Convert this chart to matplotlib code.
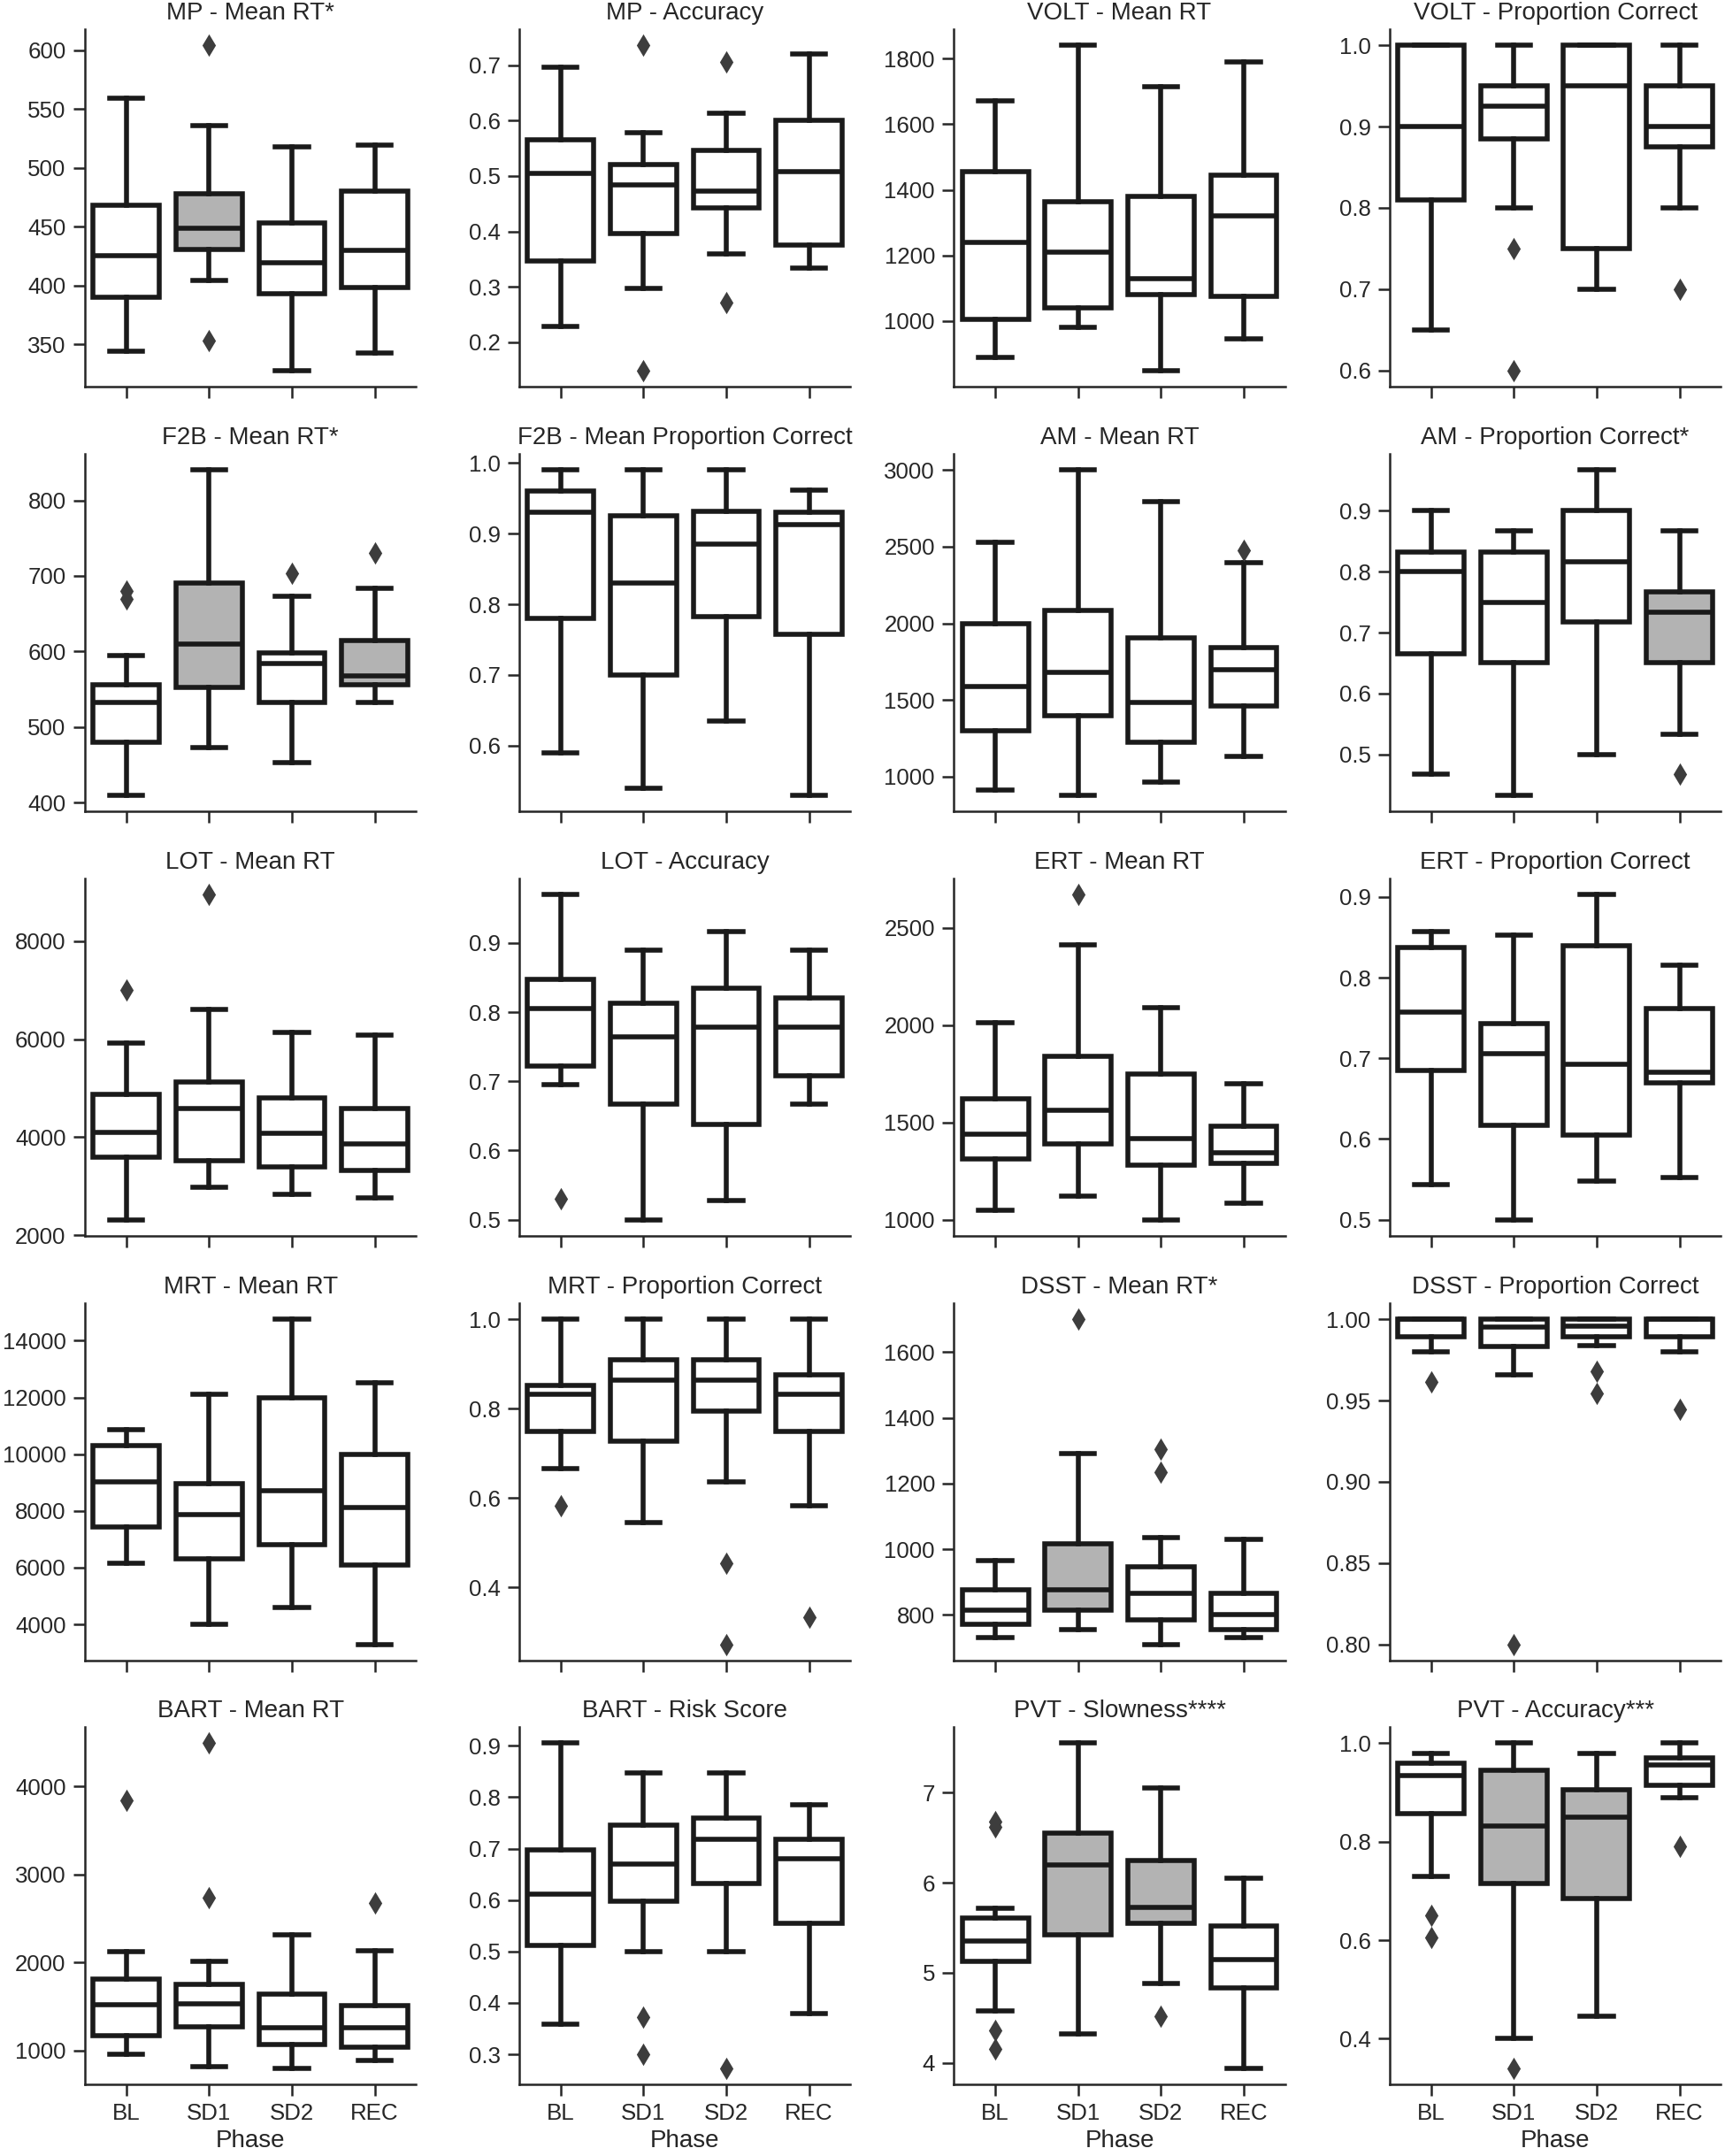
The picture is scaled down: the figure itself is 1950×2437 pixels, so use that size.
import numpy as np
import matplotlib
matplotlib.use("Agg")
import matplotlib.pyplot as plt

plt.rcParams['font.family'] = ['Liberation Sans', 'DejaVu Sans']

# phases on the x axis
phases = ["BL", "SD1", "SD2", "REC"]

# box stats per phase: [whislo, q1, median, q3, whishi]
mp_rt = [[344, 390, 425, 468, 559], [404, 431, 449, 478, 536],
         [328, 393, 419, 453, 518], [343, 398, 430, 480, 519]]
mp_rt_fl = [[], [604, 353], [], []]
mp_acc = [[0.228, 0.347, 0.504, 0.565, 0.696], [0.297, 0.396, 0.484, 0.520, 0.578],
          [0.360, 0.443, 0.472, 0.546, 0.614], [0.334, 0.376, 0.508, 0.601, 0.721]]
mp_acc_fl = [[], [0.736, 0.149], [0.706, 0.271], []]
volt_rt = [[890, 1005, 1240, 1455, 1670], [980, 1040, 1210, 1365, 1840],
           [850, 1080, 1130, 1380, 1715], [945, 1075, 1320, 1445, 1790]]
volt_rt_fl = [[], [], [], []]
volt_pc = [[0.65, 0.81, 0.90, 1.0, 1.0], [0.80, 0.885, 0.925, 0.95, 1.0],
           [0.70, 0.75, 0.95, 1.0, 1.0], [0.80, 0.875, 0.90, 0.95, 1.0]]
volt_pc_fl = [[], [0.75, 0.60], [], [0.70]]

f2b_rt = [[410, 480, 533, 556, 594], [473, 553, 610, 690, 840],
          [453, 533, 584, 598, 673], [533, 556, 568, 615, 684]]
f2b_rt_fl = [[670, 680], [], [703], [730]]
f2b_pc = [[0.59, 0.78, 0.93, 0.96, 0.99], [0.54, 0.70, 0.83, 0.925, 0.99],
          [0.635, 0.783, 0.885, 0.932, 0.99], [0.53, 0.758, 0.913, 0.93, 0.962]]
f2b_pc_fl = [[], [], [], []]
am_rt = [[910, 1300, 1590, 2000, 2530], [880, 1395, 1680, 2085, 3000],
         [965, 1225, 1485, 1905, 2795], [1130, 1460, 1695, 1840, 2395]]
am_rt_fl = [[], [], [], [2475]]
am_pc = [[0.467, 0.665, 0.80, 0.833, 0.90], [0.433, 0.65, 0.75, 0.833, 0.867],
         [0.50, 0.717, 0.817, 0.90, 0.967], [0.533, 0.65, 0.733, 0.767, 0.867]]
am_pc_fl = [[], [], [], [0.467]]

lot_rt = [[2320, 3600, 4100, 4870, 5930], [2980, 3520, 4580, 5130, 6600],
          [2830, 3400, 4080, 4810, 6140], [2760, 3330, 3860, 4590, 6090]]
lot_rt_fl = [[7000], [8950], [], []]
lot_acc = [[0.695, 0.722, 0.805, 0.848, 0.97], [0.50, 0.667, 0.764, 0.813, 0.89],
           [0.528, 0.637, 0.778, 0.835, 0.917], [0.667, 0.708, 0.778, 0.82, 0.89]]
lot_acc_fl = [[0.53], [], [], []]
ert_rt = [[1050, 1310, 1440, 1620, 2010], [1120, 1390, 1560, 1840, 2410],
          [1000, 1280, 1415, 1750, 2090], [1085, 1290, 1345, 1480, 1700]]
ert_rt_fl = [[], [2670], [], []]
ert_pc = [[0.543, 0.685, 0.757, 0.837, 0.857], [0.50, 0.617, 0.706, 0.743, 0.853],
          [0.548, 0.605, 0.693, 0.840, 0.903], [0.552, 0.670, 0.683, 0.762, 0.815]]
ert_pc_fl = [[], [], [], []]

mrt_rt = [[6150, 7430, 9020, 10300, 10850], [4000, 6300, 7880, 8950, 12100],
          [4600, 6820, 8700, 12000, 14750], [3300, 6100, 8130, 10000, 12500]]
mrt_rt_fl = [[], [], [], []]
mrt_pc = [[0.667, 0.75, 0.833, 0.853, 1.0], [0.545, 0.727, 0.864, 0.909, 1.0],
          [0.636, 0.795, 0.864, 0.909, 1.0], [0.583, 0.75, 0.833, 0.875, 1.0]]
mrt_pc_fl = [[0.583], [], [0.455, 0.273], [0.333]]
dsst_rt = [[730, 770, 815, 875, 965], [755, 815, 875, 1015, 1290],
           [710, 785, 865, 945, 1035], [730, 755, 800, 865, 1030]]
dsst_rt_fl = [[], [1700], [1305, 1235], []]
dsst_pc = [[0.980, 0.989, 1.0, 1.0, 1.0], [0.966, 0.9835, 0.995, 1.0, 1.0],
           [0.984, 0.989, 0.996, 1.0, 1.0], [0.980, 0.989, 1.0, 1.0, 1.0]]
dsst_pc_fl = [[0.9615], [0.80], [0.968, 0.9546], [0.9445]]

bart_rt = [[960, 1170, 1520, 1810, 2120], [820, 1270, 1530, 1750, 2010],
           [800, 1070, 1260, 1640, 2310], [890, 1040, 1260, 1510, 2130]]
bart_rt_fl = [[3840], [4490, 2740], [], [2680]]
bart_rs = [[0.358, 0.512, 0.612, 0.698, 0.905], [0.50, 0.597, 0.670, 0.745, 0.847],
           [0.50, 0.632, 0.718, 0.760, 0.848], [0.38, 0.555, 0.68, 0.718, 0.785]]
bart_rs_fl = [[], [0.372, 0.30], [0.273], []]
pvt_sl = [[4.58, 5.13, 5.35, 5.61, 5.72], [4.32, 5.42, 6.2, 6.55, 7.55],
          [4.88, 5.55, 5.73, 6.25, 7.05], [3.94, 4.83, 5.15, 5.52, 6.05]]
pvt_sl_fl = [[6.62, 6.68, 4.36, 4.15], [], [4.52], []]
pvt_acc = [[0.73, 0.857, 0.935, 0.96, 0.98], [0.40, 0.715, 0.832, 0.945, 1.0],
           [0.445, 0.685, 0.85, 0.905, 0.98], [0.89, 0.915, 0.955, 0.97, 1.0]]
pvt_acc_fl = [[0.65, 0.605], [0.34], [], [0.79]]

titles = ["MP - Mean RT*", "MP - Accuracy", "VOLT - Mean RT", "VOLT - Proportion Correct",
          "F2B - Mean RT*", "F2B - Mean Proportion Correct", "AM - Mean RT", "AM - Proportion Correct*",
          "LOT - Mean RT", "LOT - Accuracy", "ERT - Mean RT", "ERT - Proportion Correct",
          "MRT - Mean RT", "MRT - Proportion Correct", "DSST - Mean RT*", "DSST - Proportion Correct",
          "BART - Mean RT", "BART - Risk Score", "PVT - Slowness****", "PVT - Accuracy***"]

boxes = [mp_rt, mp_acc, volt_rt, volt_pc, f2b_rt, f2b_pc, am_rt, am_pc,
         lot_rt, lot_acc, ert_rt, ert_pc, mrt_rt, mrt_pc, dsst_rt, dsst_pc,
         bart_rt, bart_rs, pvt_sl, pvt_acc]
fliers = [mp_rt_fl, mp_acc_fl, volt_rt_fl, volt_pc_fl, f2b_rt_fl, f2b_pc_fl, am_rt_fl, am_pc_fl,
          lot_rt_fl, lot_acc_fl, ert_rt_fl, ert_pc_fl, mrt_rt_fl, mrt_pc_fl, dsst_rt_fl, dsst_pc_fl,
          bart_rt_fl, bart_rs_fl, pvt_sl_fl, pvt_acc_fl]

yticks = [np.arange(350, 601, 50), np.arange(0.2, 0.71, 0.1), np.arange(1000, 1801, 200), np.arange(0.6, 1.01, 0.1),
          np.arange(400, 801, 100), np.arange(0.6, 1.01, 0.1), np.arange(1000, 3001, 500), np.arange(0.5, 0.91, 0.1),
          np.arange(2000, 8001, 2000), np.arange(0.5, 0.91, 0.1), np.arange(1000, 2501, 500), np.arange(0.5, 0.91, 0.1),
          np.arange(4000, 14001, 2000), np.arange(0.4, 1.01, 0.2), np.arange(800, 1601, 200), np.arange(0.80, 1.001, 0.05),
          np.arange(1000, 4001, 1000), np.arange(0.3, 0.91, 0.1), np.arange(4, 8, 1), np.arange(0.4, 1.01, 0.2)]

# which boxes are shaded (panel index -> phase indices)
shaded = {0: [1], 4: [1, 3], 7: [3], 14: [1], 18: [1, 2], 19: [1, 2]}

line_col = "#1a1a1a"
lw = 2.0

fig = plt.figure(figsize=(9.75, 12.185), dpi=200)
lefts = [0.0492, 0.301, 0.553, 0.8056]
bottoms = [0.8207, 0.6237, 0.4268, 0.2298, 0.0332]

for i in range(20):
    r, c = divmod(i, 4)
    ax = fig.add_axes([lefts[c], bottoms[r], 0.192, 0.1658])
    stats = []
    for b, fl in zip(boxes[i], fliers[i]):
        stats.append(dict(whislo=b[0], q1=b[1], med=b[2], q3=b[3], whishi=b[4], fliers=fl))
    art = ax.bxp(stats, positions=range(4), widths=0.8, patch_artist=True,
                 boxprops=dict(facecolor="white", edgecolor=line_col, linewidth=lw),
                 whiskerprops=dict(color=line_col, linewidth=lw),
                 capprops=dict(color=line_col, linewidth=lw),
                 medianprops=dict(color=line_col, linewidth=lw),
                 flierprops=dict(marker="d", markersize=5.2, markerfacecolor="#3d3d3d",
                                 markeredgecolor="#3d3d3d", linestyle="none"))
    for j in shaded.get(i, []):
        art["boxes"][j].set_facecolor("#b3b3b3")
    ax.set_xlim(-0.5, 3.5)
    ax.set_yticks(yticks[i])
    ax.set_xticks(range(4))
    ax.set_title(titles[i], fontsize=10, pad=4, color="#262626")
    for s in ["top", "right"]:
        ax.spines[s].set_visible(False)
    for s in ["left", "bottom"]:
        ax.spines[s].set_linewidth(0.9)
        ax.spines[s].set_color("#262626")
    ax.tick_params(axis="both", length=4.7, width=0.9, color="#262626",
                   labelsize=9.3, labelcolor="#262626", pad=3)
    if r == 4:
        ax.set_xticklabels(phases)
        ax.set_xlabel("Phase", fontsize=10, color="#262626", labelpad=2)
    else:
        ax.set_xticklabels([])

fig.savefig("out.png", dpi=200)
